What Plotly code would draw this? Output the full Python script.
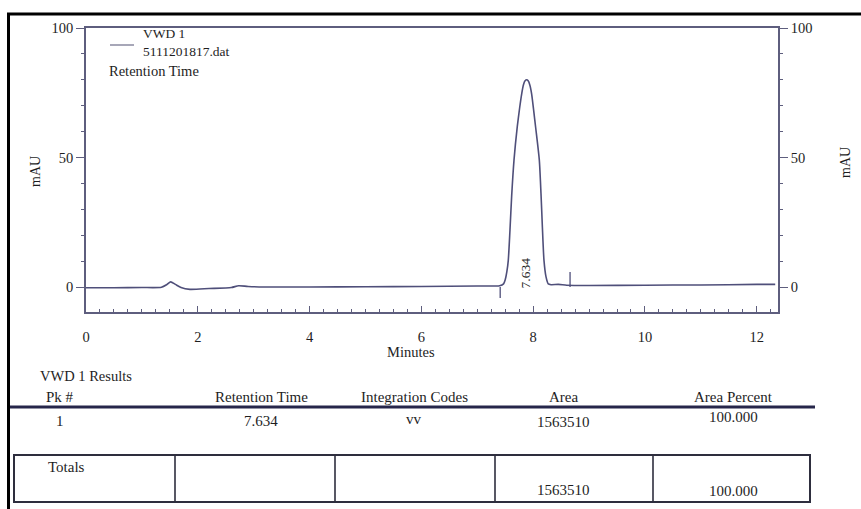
import plotly.graph_objects as go

# ---------------- data ----------------
time_min = [0.0, 0.5, 1.0, 1.35, 1.45, 1.515, 1.6, 1.7, 1.86, 2.2, 2.6, 2.73, 2.9, 3.2,
            4.0, 5.0, 6.0, 7.0, 7.40, 7.47, 7.50, 7.53, 7.555, 7.585, 7.615, 7.657, 7.716,
            7.76, 7.794, 7.825, 7.855, 7.884, 7.91, 7.94, 7.973, 8.01, 8.045, 8.11, 8.14,
            8.165, 8.193, 8.23, 8.27, 8.32, 8.45, 8.6, 9.0, 10.0, 11.0, 12.0, 12.33]
absorb_mau = [-0.3, -0.3, -0.2, -0.1, 1.0, 2.0, 1.0, -0.2, -0.9, -0.6, -0.2, 0.5, 0.2, 0.0,
              0.0, 0.1, 0.2, 0.4, 0.5, 1.2, 2.8, 6.0, 10.4, 22.0, 35.0, 49.0, 62.0,
              69.5, 74.5, 78.0, 79.6, 80.0, 79.6, 78.0, 74.5, 68.0, 61.5, 49.0, 36.0,
              23.0, 10.4, 3.9, 1.2, 0.9, 1.0, 0.7, 0.6, 0.7, 0.8, 1.0, 1.0]

event_times = [7.41, 8.66]
event_low = [0.0, 0.0]
event_high = [-4.2, 5.8]

peak_rt_label = "7.634"
peak_apex_time = 7.884

x_ticks = [0, 2, 4, 6, 8, 10, 12]
y_ticks = [0, 50, 100]

table_title = "VWD 1 Results"
table_headers = ["Pk #", "Retention Time", "Integration Codes", "Area", "Area Percent"]
table_row = ["1", "7.634", "vv", "1563510", "100.000"]
totals_row = ["Totals", "", "", "1563510", "100.000"]

legend_lines = ["VWD 1", "5111201817.dat"]
legend_title = "Retention Time"

# ---------------- layout helpers (pixel -> paper) ----------------
L, R, T, B = 86, 778, 28, 312
W, H = 861, 509
def px(x):
    return (x - L) / (R - L)
def py(y):
    return (B - y) / (B - T)

FONT = "Liberation Serif"
TXT = "#1e1e1e"
AX = "#5e5e7e"
TRACE = "#4f4f7a"

fig = go.Figure()
fig.add_trace(go.Scatter(x=time_min, y=absorb_mau, mode="lines",
                         line=dict(color=TRACE, width=1.6, shape="spline", smoothing=0.6),
                         showlegend=False, hoverinfo="skip"))
# event tick marks on integration baseline
ex, ey = [], []
for t, a, b in zip(event_times, event_low, event_high):
    ex += [t, t, None]
    ey += [a, b, None]
fig.add_trace(go.Scatter(x=ex, y=ey, mode="lines", line=dict(color=TRACE, width=1.3),
                         showlegend=False, hoverinfo="skip", yaxis="y2"))

TICKF = dict(family=FONT, size=14.5, color=TXT)
yr = [-9.65, 100]
fig.update_layout(
    width=W, height=H,
    margin=dict(l=L, r=W - R, t=T, b=H - B),
    paper_bgcolor="white", plot_bgcolor="white",
    font=dict(family=FONT, size=14, color=TXT),
    xaxis=dict(range=[0, 12.38], tickvals=x_ticks, ticks="inside", ticklen=6,
               tickcolor=AX, tickwidth=1.3, showline=True, linecolor=AX, linewidth=1.8,
               mirror=True, showgrid=False, zeroline=False, ticklabelstandoff=11,
               minor=dict(dtick=0.25, ticks="inside", ticklen=3, tickcolor=AX, showgrid=False),
               tickfont=TICKF),
    yaxis=dict(range=yr, tickvals=y_ticks, ticks="outside", ticklen=8, tickcolor=AX,
               showline=True, linecolor=AX, linewidth=1.8, showgrid=False, zeroline=False,
               minor=dict(dtick=10, ticks="outside", ticklen=3, tickcolor=AX, showgrid=False),
               tickfont=TICKF),
    yaxis2=dict(range=yr, overlaying="y", side="right", tickvals=y_ticks, ticks="outside",
                ticklen=8, tickcolor=AX, showline=True, linecolor=AX, linewidth=1.8,
                showgrid=False, zeroline=False,
                minor=dict(dtick=10, ticks="outside", ticklen=3, tickcolor=AX, showgrid=False),
                tickfont=TICKF),
)

ann = []
def text(x, y, s, xanchor="center", size=14.5, angle=0):
    ann.append(dict(x=px(x), y=py(y), xref="paper", yref="paper", text=s, showarrow=False,
                    xanchor=xanchor, yanchor="middle", textangle=angle,
                    font=dict(family=FONT, size=size, color=TXT)))

# peak retention label (data coords)
ann.append(dict(x=peak_apex_time - 0.03, y=-1.5, xref="x", yref="y", text=peak_rt_label,
                showarrow=False, textangle=-90, xanchor="center", yanchor="bottom",
                font=dict(family=FONT, size=13.5, color=TXT)))

# axis titles
text(35, 172, "mAU", angle=-90, size=14)
text(845, 163, "mAU", angle=-90, size=14)
text(411, 352, "Minutes")

# legend
text(141, 33.5, legend_lines[0], xanchor="left", size=13.5)
text(141, 51.5, legend_lines[1], xanchor="left", size=13.5)
text(107, 71, legend_title, xanchor="left")

shapes = [dict(type="line", xref="paper", yref="paper", x0=px(110), x1=px(134),
               y0=py(45), y1=py(45), line=dict(color="#8a8aa0", width=1.5))]

# table
text(38, 376, table_title, xanchor="left")
col_centers = [60, 261, 414, 563, 733]
for c, h in zip(col_centers, table_headers):
    text(c, 397, h, size=15)
row_y = [421, 421, 419, 422, 417]
for c, v, yy in zip(col_centers, table_row, row_y):
    text(c, yy, v, size=15)
shapes.append(dict(type="line", xref="paper", yref="paper", x0=px(10), x1=px(815),
                   y0=py(407), y1=py(407), line=dict(color="#26264a", width=3)))
# totals box
shapes.append(dict(type="rect", xref="paper", yref="paper", x0=px(14), x1=px(810),
                   y0=py(455), y1=py(502), line=dict(color="#2e2e3e", width=2)))
for dx in [175, 335, 495, 653]:
    shapes.append(dict(type="line", xref="paper", yref="paper", x0=px(dx), x1=px(dx),
                       y0=py(455), y1=py(502), line=dict(color="#2e2e3e", width=1.6)))
tot_y = [467, 478, 478, 490, 491]
for c, v, yy in zip(col_centers, totals_row, tot_y):
    if v:
        text(c if v != "Totals" else 66, yy, v, size=15)

# page border (black frame)
shapes.append(dict(type="line", xref="paper", yref="paper", x0=px(7), x1=px(861),
                   y0=py(14), y1=py(14), line=dict(color="black", width=3)))
shapes.append(dict(type="line", xref="paper", yref="paper", x0=px(8.5), x1=px(8.5),
                   y0=py(13), y1=py(509), line=dict(color="black", width=3)))

fig.update_layout(annotations=ann, shapes=shapes)
fig.write_html("out.html")
